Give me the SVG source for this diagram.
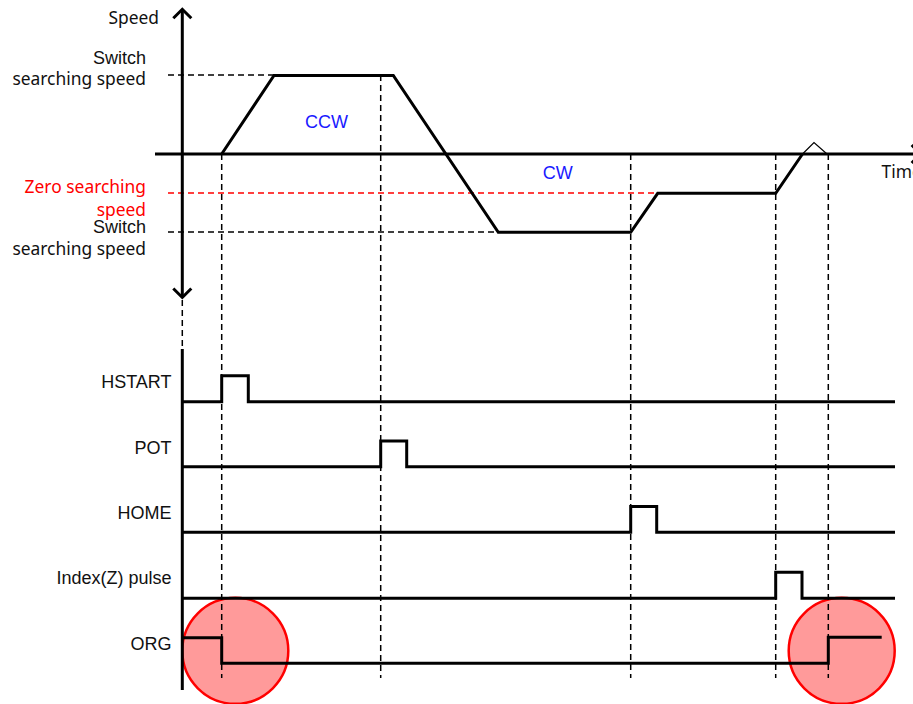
<svg xmlns="http://www.w3.org/2000/svg" width="913" height="704" viewBox="0 0 913 704">
<style>
.thick{fill:none;stroke:#000;stroke-width:3;stroke-linejoin:miter}
.thin{fill:none;stroke:#000;stroke-width:1.2}
.dash{fill:none;stroke:#000;stroke-width:1.5;stroke-dasharray:6 4}
.rdash{fill:none;stroke:#f00;stroke-width:1.5;stroke-dasharray:6 4}
.lab{font-family:"Noto Sans","Liberation Sans",sans-serif;font-size:17.4px;fill:#111;text-anchor:end}
.sw{font-family:"Liberation Sans",Arial,sans-serif;font-size:18px;fill:#111;text-anchor:end}
.sig{font-family:"Liberation Sans",Arial,sans-serif;font-size:18px;fill:#111;text-anchor:end}
.dir{font-family:"Liberation Sans",Arial,sans-serif;font-size:18px;fill:#1a1aff}
.circ{fill:#ff9a9a;stroke:#f00;stroke-width:2.5}
</style>
<rect width="913" height="704" fill="#fff"/>

<g id="highlights">
<circle class="circ" cx="235.3" cy="650.8" r="53"/>
<circle class="circ" cx="841.7" cy="650.8" r="53"/>
</g>

<g id="guides">
<line class="dash" x1="168" y1="75" x2="275" y2="75"/>
<line class="rdash" x1="168" y1="193" x2="657" y2="193"/>
<line class="dash" x1="168" y1="232" x2="498" y2="232"/>
<line class="dash" x1="221.7" y1="154" x2="221.7" y2="678"/>
<line class="dash" x1="380.7" y1="75" x2="380.7" y2="678"/>
<line class="dash" x1="630.7" y1="154" x2="630.7" y2="678"/>
<line class="dash" x1="775.7" y1="154" x2="775.7" y2="678"/>
<line class="dash" x1="828.3" y1="154" x2="828.3" y2="678"/>
<line class="dash" x1="182.3" y1="300" x2="182.3" y2="348"/>
</g>

<g id="axes">
<line class="thick" x1="182.3" y1="10" x2="182.3" y2="297"/>
<polyline class="thick" points="173.3,18.3 182.3,9.3 191.3,18.3"/>
<polyline class="thick" points="173.3,288.5 182.3,297.5 191.3,288.5"/>
<line class="thick" x1="155" y1="154" x2="920" y2="154"/>
<polyline class="thick" points="911.7,145 920.5,154 911.7,163"/>
<line class="thick" x1="182.3" y1="349" x2="182.3" y2="690"/>
</g>

<g id="speed-profile">
<polyline class="thick" points="221.7,154 274,75.5 393.3,75.5 498.3,232.3 630.7,232.3 657.7,193.3 775.7,193.3 802.5,154"/>
<polyline class="thin" points="802.5,154 814,142.5 827,154"/>
</g>

<g id="signals">
<polyline class="thick" points="182.3,401.7 221.7,401.7 221.7,375.7 248.3,375.7 248.3,401.7 895,401.7"/>
<polyline class="thick" points="182.3,466.7 380.7,466.7 380.7,441 406.7,441 406.7,466.7 895,466.7"/>
<polyline class="thick" points="182.3,532.3 630.7,532.3 630.7,506.5 656.7,506.5 656.7,532.3 895,532.3"/>
<polyline class="thick" points="182.3,598.3 775.7,598.3 775.7,572.3 802,572.3 802,598.3 895,598.3"/>
<polyline class="thick" points="182.3,637.7 221.7,637.7 221.7,663.3 828.3,663.3 828.3,637.3 881.7,637.3"/>
</g>

<g id="labels">
<text class="lab" x="159" y="23.5">Speed</text>
<text class="sw" x="146" y="64">Switch</text>
<text class="lab" x="146" y="85">searching speed</text>
<text class="lab" x="146" y="193" style="fill:#f00">Zero searching</text>
<text class="lab" x="146" y="215.5" style="fill:#f00">speed</text>
<text class="sw" x="146" y="233">Switch</text>
<text class="lab" x="146" y="255">searching speed</text>
<text class="lab" x="881.5" y="178.3" style="text-anchor:start">Time</text>
<text class="dir" x="305" y="128">CCW</text>
<text class="dir" x="542.7" y="179.3">CW</text>
<text class="sig" x="171.5" y="388">HSTART</text>
<text class="sig" x="171.5" y="454">POT</text>
<text class="sig" x="171.5" y="518.5">HOME</text>
<text class="sig" x="171.5" y="584">Index(Z) pulse</text>
<text class="sig" x="171.5" y="650">ORG</text>
</g>
</svg>
